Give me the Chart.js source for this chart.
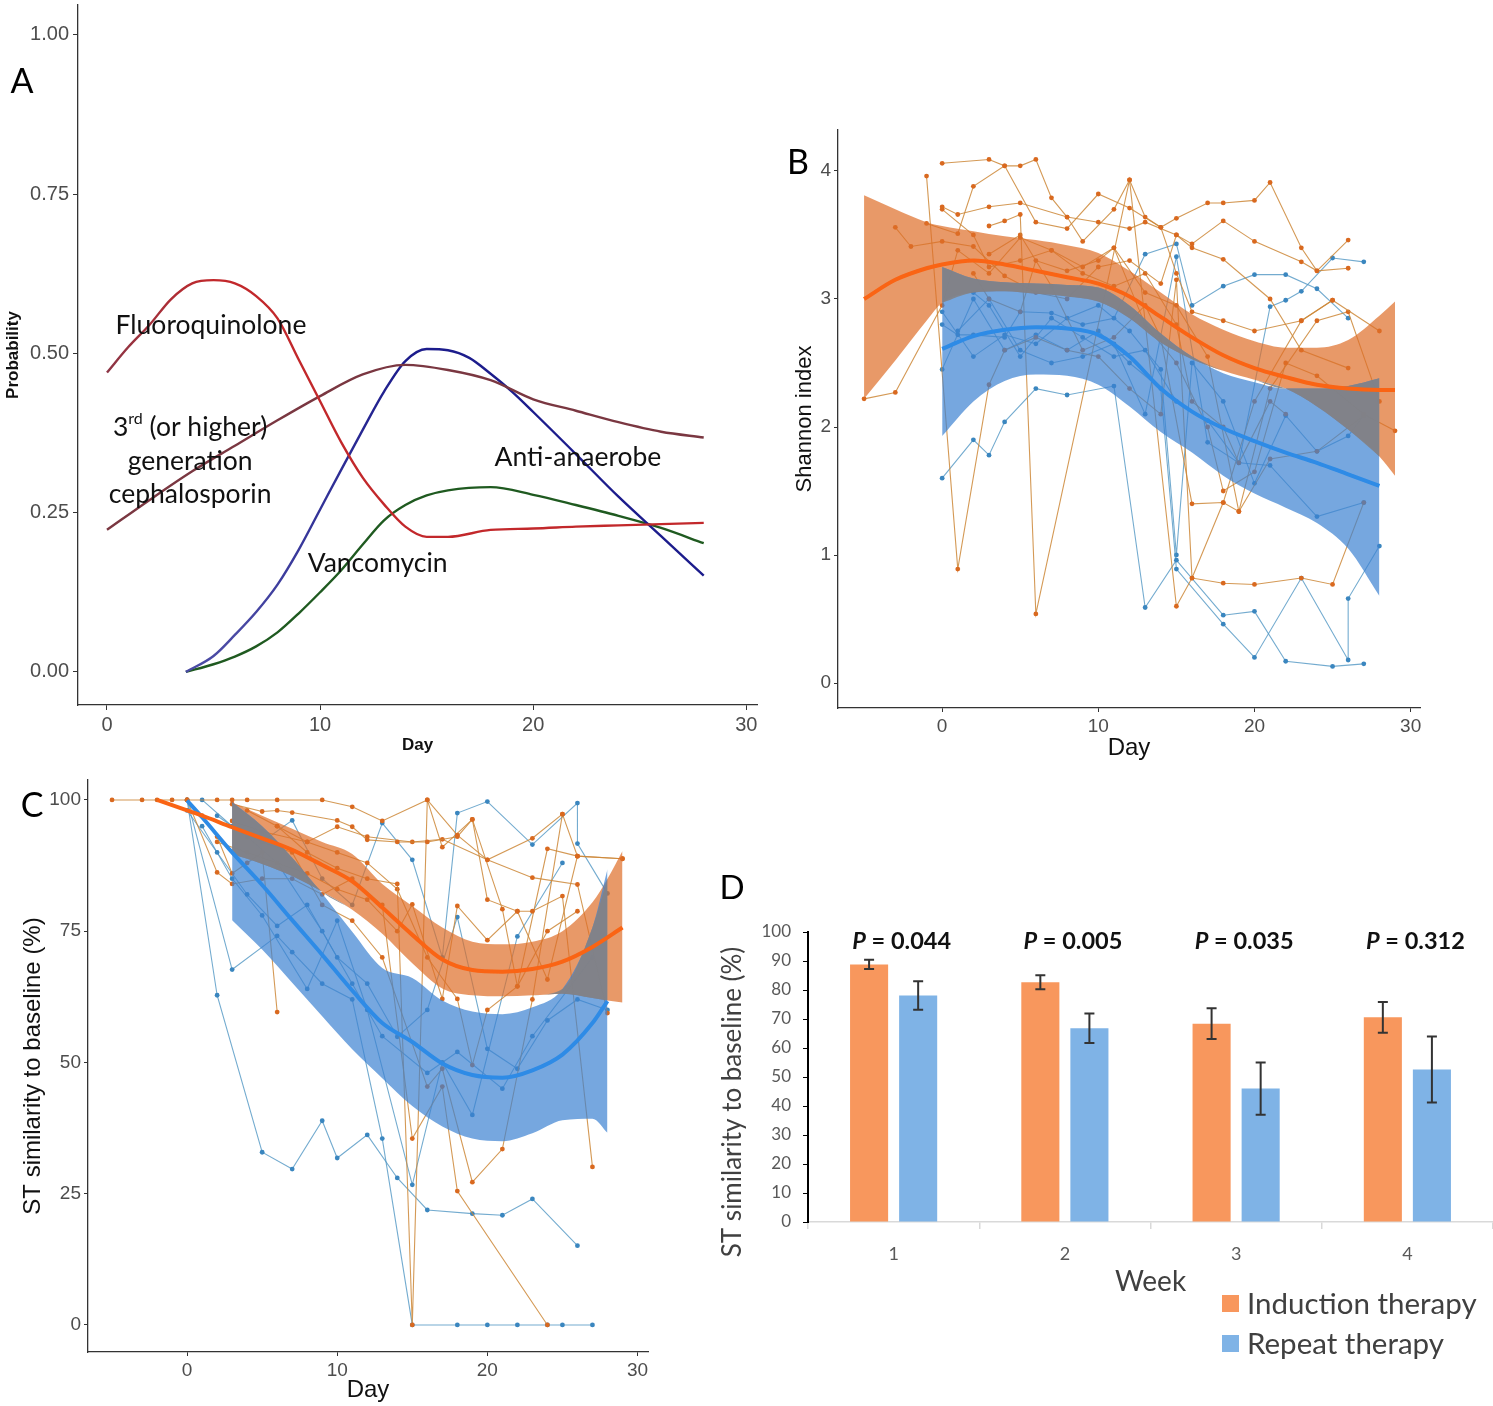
<!DOCTYPE html>
<html>
<head>
<meta charset="utf-8">
<title>Antibiotic exposure and microbiota</title>
<script src="https://cdn.jsdelivr.net/npm/chart.js@4.4.1/dist/chart.umd.min.js"></script>
<style>
  html, body { margin: 0; padding: 0; background: #fff; }
  body { width: 1493px; height: 1406px; position: relative; overflow: hidden; }
  .panel { position: absolute; }
</style>
</head>
<body>
<div class="panel" style="left:0;top:0;width:770px;height:760px"><canvas id="chartA"></canvas></div>
<div class="panel" style="left:780px;top:120px;width:650px;height:650px"><canvas id="chartB"></canvas></div>
<div class="panel" style="left:0;top:770px;width:660px;height:636px"><canvas id="chartC"></canvas></div>
<div class="panel" style="left:700px;top:860px;width:793px;height:546px"><canvas id="chartD"></canvas></div>
<script>
// ===== Panel A: probability of receiving each antibiotic class =====
const fluoroDays = [0,1,2,3,4,5,6,7,8,9,10,11,12,13,14,15,16,18,20,22,24,26,28];
const fluoroProb = [0.47,0.51,0.545,0.585,0.61,0.615,0.61,0.59,0.555,0.49,0.425,0.36,0.305,0.263,0.228,0.212,0.212,0.223,0.225,0.228,0.23,0.232,0.234];
const cephDays = [0,2,4,6,8,10,12,14,16,18,20,22,24,26,28];
const cephProb = [0.223,0.27,0.315,0.355,0.395,0.433,0.467,0.482,0.474,0.458,0.428,0.41,0.392,0.377,0.368];
const anaerobeDays = [3.7,5,6,7,8,9,10,11,12,13,14,15,16,17,18,19,20,22,24,26,28];
const anaerobeProb = [0,0.025,0.058,0.094,0.137,0.192,0.255,0.318,0.38,0.44,0.488,0.507,0.505,0.493,0.468,0.44,0.408,0.342,0.275,0.213,0.151];
const vancoDays = [3.7,5,6,7,8,9,10,11,12,13,14,15,16,18,20,22,24,26,28];
const vancoProb = [0,0.012,0.024,0.04,0.062,0.092,0.125,0.16,0.2,0.238,0.262,0.277,0.285,0.29,0.278,0.262,0.245,0.226,0.202];

// ===== Panel B: Shannon index per patient + loess fits =====
const shannonInduction = [
  [[-5,2.22],[-3,2.27],[0,2.95],[1,3.38],[3,3.2],[5,3.48],[7,3.38],[9,3.25],[11,3.4],[13,3.05],[15,2.95],[17,2.55],[19,1.34],[21,1.75],[24,1.81],[27,2.09]],
  [[-3,3.56],[-2,3.41],[0,3.45],[2,3.41],[4,3.18],[6,3.05],[8,3.0],[10,3.25],[12,3.3],[14,3.12],[15,3.5],[16,3.43],[18,3.61],[20,3.45],[23,3.29],[24,3.22],[26,3.24]],
  [[-1,3.96],[1,0.89],[3,2.33],[4,2.6],[6,2.7],[8,2.6],[10,2.55],[12,2.3],[14,2.1],[15,3.15],[16,0.82],[18,1.41],[20,2.2],[23,2.83],[25,2.99]],
  [[0,4.06],[3,4.09],[4,4.04],[5,4.04],[6,4.09],[7,3.79],[8,3.64],[9,3.45],[11,3.7],[12,3.93],[13,3.64],[14,3.56],[15,3.63],[17,3.75],[18,3.75],[20,3.77],[21,3.91],[23,3.4],[24,3.22],[26,3.46]],
  [[-1,3.59],[1,3.51],[2,3.88],[4,4.04],[6,3.6],[8,3.55],[10,3.82],[12,3.71],[14,3.56],[15,3.2],[16,2.9],[18,2.83],[20,2.75],[23,2.83],[25,2.99],[28,2.75]],
  [[0,3.72],[1,3.66],[3,3.72],[5,3.75],[8,3.64],[10,3.6],[12,3.55],[13,3.6],[15,3.5],[16,3.4],[18,3.31],[21,3.0],[23,2.6],[26,2.46]],
  [[3,3.57],[4,3.61],[5,3.66],[6,0.54],[12,3.93],[15,0.6],[16,0.82],[18,0.78],[20,0.77],[23,0.82],[25,0.77],[27,1.41]],
  [[0,3.7],[2,3.5],[3,3.25],[5,3.3],[7,3.38],[9,3.2],[11,3.1],[13,3.2],[15,2.8],[16,2.2],[18,2.0],[19,1.72],[21,2.2],[22,2.1]],
  [[2,3.2],[3,3.0],[5,2.9],[6,3.3],[8,3.22],[10,3.3],[11,3.4],[13,2.8],[15,2.5],[17,2.0],[18,1.5],[20,1.65],[22,2.5],[24,2.4],[27,2.1],[29,1.97]],
  [[3,3.35],[5,3.5],[7,3.1],[9,2.6],[11,2.7],[13,2.95],[14,2.7],[16,1.4],[18,1.41],[19,1.34],[21,2.3],[24,2.83],[26,2.9],[28,2.2]]
];
const shannonRepeat = [
  [[0,1.6],[2,1.9],[3,1.78],[4,2.04],[6,2.3],[8,2.25],[11,2.32],[13,0.59],[15,0.96],[18,0.53],[20,0.56],[22,0.17],[25,0.13],[27,0.15]],
  [[0,2.8],[1,2.72],[2,2.72],[4,2.7],[5,2.9],[7,2.89],[9,2.8],[11,2.85],[13,3.35],[15,3.43],[16,2.95],[18,3.1],[20,3.19],[22,3.19],[24,3.08],[26,2.85]],
  [[0,2.45],[2,3.0],[4,2.6],[6,2.72],[8,2.6],[10,2.75],[12,2.5],[14,2.3],[15,0.89],[18,0.46],[20,0.2],[23,0.82],[26,0.18],[26,0.66],[28,1.07]],
  [[1,2.75],[3,3.0],[5,2.6],[7,2.5],[9,2.55],[11,2.65],[13,2.1],[15,3.33],[17,1.88],[19,1.72],[21,2.94],[22,2.99],[23,3.06],[25,3.32],[27,3.29]],
  [[0,2.9],[2,2.55],[4,2.72],[6,2.65],[8,2.85],[10,2.95],[12,2.75],[14,2.45],[15,1.0],[16,2.5],[18,2.2],[20,1.56],[22,2.09],[24,1.81],[26,1.93],[27,2.09]],
  [[2,3.05],[3,2.95],[5,2.55],[7,2.85],[9,2.7],[11,2.55],[13,2.6],[15,2.2],[17,2.05],[19,1.72],[21,1.7],[24,1.3],[27,1.41]]
];
const shannonIndDays = [-5,-3,-1,0,2,4,6,8,10,12,14,16,18,20,22,24,26,28,29];
const shannonIndFit  = [3.00,3.15,3.24,3.27,3.30,3.27,3.22,3.17,3.12,3.02,2.86,2.70,2.56,2.46,2.39,2.33,2.30,2.29,2.29];
const shannonIndHi   = [3.81,3.70,3.60,3.57,3.53,3.49,3.46,3.42,3.36,3.22,3.05,2.88,2.76,2.67,2.62,2.62,2.68,2.87,2.98];
const shannonIndLo   = [2.22,2.52,2.83,2.97,3.05,3.06,3.04,3.02,2.98,2.85,2.66,2.53,2.44,2.37,2.30,2.16,1.98,1.77,1.62];
const shannonRepDays = [0,2,4,6,8,10,12,14,16,18,20,22,24,26,28];
const shannonRepFit  = [2.61,2.71,2.76,2.78,2.77,2.72,2.55,2.30,2.12,1.99,1.89,1.80,1.72,1.63,1.54];
const shannonRepHi   = [3.25,3.16,3.13,3.12,3.11,3.09,2.95,2.73,2.55,2.42,2.35,2.30,2.30,2.32,2.38];
const shannonRepLo   = [1.93,2.20,2.36,2.41,2.40,2.33,2.16,1.96,1.80,1.62,1.48,1.37,1.25,1.05,0.68];

// ===== Panel C: ST similarity to baseline per patient + loess fits =====
const simInduction = [
  [[-5,100],[-3,100],[-2,100],[-1,100],[0,100],[2,100],[3,100],[4,100],[6,100],[9,100],[11,98.7],[13,96],[16,100],[18,93.3],[20,88.6],[23,92.7],[25,97.3],[26,89.3],[29,88.8]],
  [[0,100],[1,97],[2,93],[3,86],[4,88],[5,90],[6,59.6]],
  [[0,100],[2,86.2],[3,84],[5,85],[7,85],[9,82],[11,85],[13,80],[15,35.5],[17,45.4],[18,25.5],[24,0]],
  [[3,99.2],[5,97.8],[6,98],[7,97.6],[10,96.1],[11,94.9],[12,92.4],[14,92],[16,92],[18,93],[19,96.3],[20,81],[22,78.8],[23,78.8],[25,81.7],[27,30.1]],
  [[3,96],[5,94],[8,92],[10,94.9],[12,93],[15,92],[17,92.5],[20,88.6],[23,85.2],[26,83.9],[28,59.4]],
  [[4,98],[6,95],[8,90],[10,87],[12,85],[14,84],[15,0],[16,100],[17,91],[19,96.3],[21,79.2],[22,64.5],[24,75],[26,78.8]],
  [[2,92],[4,90],[6,88],[8,86],[10,83],[12,81],[14,75],[15,80.1],[17,62.1],[18,79.8],[20,73.3],[22,78.8],[24,65.8],[26,89.3],[29,88.8]],
  [[5,92],[7,90],[9,80],[11,77],[13,70],[16,45.4],[17,48.8],[19,27.2],[21,33.5],[23,62],[25,97.3]],
  [[6,95],[8,92],[10,90],[12,88],[14,83],[16,70],[18,62.1],[19,49.5],[20,60],[22,64.5],[24,90.7],[26,89.3]]
];
const simRepeat = [
  [[0,100],[2,62.8],[5,32.9],[7,29.7],[9,38.9],[10,31.8],[12,36.2],[14,28],[16,21.9],[19,21.2],[21,20.9],[23,24],[26,15.1]],
  [[0,100],[3,67.7],[6,74.1],[7,71],[9,65],[11,62],[13,35.5],[15,0],[18,0],[20,0],[22,0],[24,0],[25,0],[27,0]],
  [[1,100],[3,95],[5,92],[7,96.1],[9,85],[11,80],[13,95.6],[15,88.6],[17,70],[18,97.5],[20,99.7],[23,91.5],[26,99.4],[26,91.7],[28,82.2]],
  [[0,98],[2,90],[4,82],[6,76],[8,80],[10,70],[12,65],[14,54.9],[16,60],[18,77.7],[20,52.6],[22,48.8],[24,58],[26,62],[28,60]],
  [[1,95],[3,85],[5,78],[8,64],[10,77],[12,60],[15,26.7],[17,50],[19,40],[22,74],[25,88]],
  [[2,97],[4,93],[6,88],[9,75],[11,65],[13,55],[16,48],[18,52],[21,45],[23,55],[27,70]]
];
const simIndFitDays = [-2,0,1,3,5,7,9,11,13,15,17,19,21,23,25,27,29];
const simIndFit     = [100,98,97,94.8,92.7,90.5,87.6,84.5,79.5,74.3,69.6,67.6,67.3,67.8,69.2,72,75.7];
const simRepFitDays = [0,1,3,5,7,9,11,13,15,17,19,21,23,25,27,28];
const simRepFit     = [99.9,96.7,90,83.8,77.1,70.5,63.7,57.5,53.9,49.8,47.6,47.1,48.5,51.5,57.5,61.7];
const simIndBandDays = [3,5,7,9,11,13,15,17,19,21,23,25,27,28,29];
const simIndHi = [99.5,97,94.5,92,89.7,84,79.8,75.7,73,72.5,73,75,80.5,85,90.3];
const simIndLo = [89.7,87.8,85.5,82.5,79.1,74.5,68.9,64.1,62.8,62.6,62.8,63.1,62.3,61.8,61.4];
const simRepBandDays = [3,5,7,9,11,13,15,17,19,21,23,25,27,28];
const simRepHi = [99.6,95,89,82.2,74.9,68,66.1,61.8,59.7,59.2,60.5,64,75.7,86.8];
const simRepLo = [77.1,71.5,65.2,58.8,52.5,47,41.7,37.8,35.5,35,36.5,39,39.3,36.6];

// ===== Panel D: weekly mean similarity (bars) =====
const weeks = ['1', '2', '3', '4'];
const inductionMean = [88.8, 82.7, 68.4, 70.6];
const inductionErr  = [1.6, 2.4, 5.3, 5.3];
const repeatMean    = [78.1, 66.8, 46.0, 52.6];
const repeatErr     = [4.9, 5.1, 9.0, 11.4];
const pValues = ['0.044', '0.005', '0.035', '0.312'];

// colours
const IND_LINE = 'rgba(205,135,55,0.85)';
const IND_POINT = '#d9691f';
const REP_LINE = 'rgba(80,150,195,0.8)';
const REP_POINT = '#3a86bf';
const IND_BAND = 'rgba(222,110,40,0.70)';
const REP_BAND = 'rgba(60,130,210,0.70)';
const BOTH_BAND = 'rgba(132,130,132,0.88)';

Chart.defaults.font.family = "'Liberation Sans', Arial, sans-serif";
Chart.defaults.animation = false;
Chart.defaults.plugins.legend.display = false;
Chart.defaults.plugins.tooltip.enabled = false;

function pts(xs, ys) {
  return xs.map((x, i) => ({ x: x, y: ys[i] }));
}

// fixed axis sizes so the plot areas land where the figure has them
function fixedWidth(w) {
  return function(scale) { scale.width = w; scale.paddingTop = 0; scale.paddingBottom = 0; };
}
function fixedHeight(h) {
  return function(scale) { scale.height = h; scale.paddingLeft = 0; scale.paddingRight = 0; };
}

function patientSets(patients, lineColor, pointColor) {
  return patients.map(p => ({
    data: p.map(([x, y]) => ({ x: x, y: y })),
    borderColor: lineColor,
    borderWidth: 1.1,
    pointRadius: 2.4,
    pointBackgroundColor: pointColor,
    pointBorderWidth: 0,
    tension: 0,
    order: 10
  }));
}

// upper edge fills down to the lower edge (next dataset)
function bandSets(days, lo, hi, color, order) {
  return [
    { data: pts(days, hi), fill: '+1', backgroundColor: color, borderColor: 'rgba(0,0,0,0)',
      borderWidth: 0, pointRadius: 0, cubicInterpolationMode: 'monotone', order: order },
    { data: pts(days, lo), fill: false, borderColor: 'rgba(0,0,0,0)',
      borderWidth: 0, pointRadius: 0, cubicInterpolationMode: 'monotone', order: order }
  ];
}

// part where the two confidence bands cover each other (drawn grey)
function overlapSets(indDays, indLo, indHi, repDays, repLo, repHi) {
  const lo = [], hi = [];
  repDays.forEach((d, i) => {
    const j = indDays.indexOf(d);
    const l = Math.max(indLo[j], repLo[i]);
    const h = Math.min(indHi[j], repHi[i]);
    lo.push(l);
    hi.push(Math.max(h, l));
  });
  return bandSets(repDays, lo, hi, BOTH_BAND, 4);
}

function fitSet(days, vals, color) {
  return { data: pts(days, vals), borderColor: color, borderWidth: 4, pointRadius: 0,
           cubicInterpolationMode: 'monotone', fill: false, order: 1 };
}

function ggAxes(xr, yr, yStep, yWidth, xHeight, xTitle, yTitle, tickSize) {
  return {
    x: {
      type: 'linear', min: xr[0], max: xr[1],
      afterFit: fixedHeight(xHeight),
      border: { display: true, color: '#333', width: 1.3 },
      grid: { drawOnChartArea: false, drawTicks: true, tickLength: 4, color: '#333' },
      ticks: { stepSize: 10, includeBounds: false, color: '#4d4d4d', padding: 3, font: { size: tickSize } },
      title: xTitle
    },
    y: {
      type: 'linear', min: yr[0], max: yr[1],
      afterFit: fixedWidth(yWidth),
      border: { display: true, color: '#333', width: 1.3 },
      grid: { drawOnChartArea: false, drawTicks: true, tickLength: 4, color: '#333' },
      ticks: { stepSize: yStep, includeBounds: false, color: '#4d4d4d', padding: 3, font: { size: tickSize } },
      title: yTitle
    }
  };
}

function panelLetter(letter, x, y) {
  return {
    id: 'letter' + letter,
    afterDraw(chart) {
      const ctx = chart.ctx;
      ctx.save();
      ctx.fillStyle = '#000';
      ctx.font = '34px Lato';
      ctx.textAlign = 'center';
      ctx.textBaseline = 'middle';
      ctx.fillText(letter, x, y);
      ctx.restore();
    }
  };
}

// ---------- Panel A ----------
const LABEL_FONT = '26.5px Lato';
const curveLabels = {
  id: 'curveLabels',
  afterDraw(chart) {
    const ctx = chart.ctx;
    const xs = chart.scales.x, ys = chart.scales.y;
    const at = (d, p) => [xs.getPixelForValue(d), ys.getPixelForValue(p)];
    ctx.save();
    ctx.fillStyle = '#111';
    ctx.textBaseline = 'middle';
    ctx.textAlign = 'center';
    ctx.font = LABEL_FONT;
    let [x, y] = at(4.88, 0.544);
    ctx.fillText('Fluoroquinolone', x, y);
    [x, y] = at(3.9, 0.330);
    ctx.fillText('generation', x, y);
    [x, y] = at(3.9, 0.278);
    ctx.fillText('cephalosporin', x, y);
    [x, y] = at(22.1, 0.336);
    ctx.fillText('Anti-anaerobe', x, y);
    [x, y] = at(12.7, 0.170);
    ctx.fillText('Vancomycin', x, y);
    // "3rd (or higher)" with superscript
    [x, y] = at(3.9, 0.384);
    ctx.textAlign = 'left';
    const w3 = ctx.measureText('3').width;
    const wRest = ctx.measureText(' (or higher)').width;
    ctx.font = '16px Lato';
    const wSup = ctx.measureText('rd').width;
    const x0 = x - (w3 + wSup + wRest) / 2;
    ctx.font = LABEL_FONT;
    ctx.fillText('3', x0, y);
    ctx.font = '16px Lato';
    ctx.fillText('rd', x0 + w3, y - 8);
    ctx.font = LABEL_FONT;
    ctx.fillText(' (or higher)', x0 + w3 + wSup, y);
    ctx.restore();
  }
};

// colour that shifts along the day axis (the figure's curves do this)
function dayGradient(fromDay, toDay, c0, c1) {
  return function(context) {
    const chart = context.chart;
    if (!chart.chartArea) return c1;
    const xs = chart.scales.x;
    const g = chart.ctx.createLinearGradient(xs.getPixelForValue(fromDay), 0, xs.getPixelForValue(toDay), 0);
    g.addColorStop(0, c0);
    g.addColorStop(1, c1);
    return g;
  };
}

function curveSet(days, probs, color) {
  return { data: pts(days, probs), borderColor: color, borderWidth: 2.4, pointRadius: 0,
           cubicInterpolationMode: 'monotone', fill: false };
}

new Chart(document.getElementById('chartA'), {
  type: 'line',
  data: {
    datasets: [
      curveSet(fluoroDays, fluoroProb, dayGradient(0, 5, '#8c3545', '#c2282b')),
      curveSet(cephDays, cephProb, '#7a3741'),
      curveSet(anaerobeDays, anaerobeProb, dayGradient(6, 14, '#4a4aa4', '#1c1c8c')),
      curveSet(vancoDays, vancoProb, '#1f5a20')
    ]
  },
  options: {
    responsive: true,
    maintainAspectRatio: false,
    layout: { padding: { top: 5, right: 13, left: 0, bottom: 0 } },
    scales: {
      x: {
        type: 'linear', min: -1.36, max: 30.5,
        afterFit: fixedHeight(55),
        border: { display: true, color: '#333', width: 1.3 },
        grid: { drawOnChartArea: false, tickLength: 5, color: '#333' },
        ticks: { stepSize: 10, includeBounds: false, color: '#4d4d4d', padding: 3, font: { size: 20 } },
        title: { display: true, text: 'Day', color: '#111', font: { size: 17, weight: 'bold' }, padding: { top: 0, bottom: 4.8 } }
      },
      y: {
        type: 'linear', min: -0.052, max: 1.047,
        afterFit: fixedWidth(78),
        border: { display: true, color: '#333', width: 1.3 },
        grid: { drawOnChartArea: false, tickLength: 5, color: '#333' },
        ticks: { stepSize: 0.25, includeBounds: false, color: '#4d4d4d', padding: 4, font: { size: 20 },
                 callback: v => v.toFixed(2) },
        title: { display: true, text: 'Probability', color: '#111', font: { size: 17, weight: 'bold' }, padding: { top: 2.8, bottom: 0 } }
      }
    }
  },
  plugins: [curveLabels, panelLetter('A', 22, 82)]
});

// ---------- Panel B ----------
new Chart(document.getElementById('chartB'), {
  type: 'line',
  data: {
    datasets: [
      ...patientSets(shannonInduction, IND_LINE, IND_POINT),
      ...patientSets(shannonRepeat, REP_LINE, REP_POINT),
      ...bandSets(shannonIndDays, shannonIndLo, shannonIndHi, IND_BAND, 6),
      ...bandSets(shannonRepDays, shannonRepLo, shannonRepHi, REP_BAND, 5),
      ...overlapSets(shannonIndDays, shannonIndLo, shannonIndHi, shannonRepDays, shannonRepLo, shannonRepHi),
      fitSet(shannonIndDays, shannonIndFit, '#fa6414'),
      fitSet(shannonRepDays, shannonRepFit, '#2e8be6')
    ]
  },
  options: {
    responsive: true,
    maintainAspectRatio: false,
    layout: { padding: { top: 10, right: 10, left: 0, bottom: 0 } },
    scales: ggAxes([-6.67, 30.6], [-0.195, 4.32], 1, 58, 62,
      { display: true, text: 'Day', color: '#111', font: { size: 24 }, padding: { top: 0, bottom: 7.6 } },
      { display: true, text: 'Shannon index', color: '#111', font: { size: 22 }, padding: { top: 11.8, bottom: 0 } },
      19)
  },
  plugins: [panelLetter('B', 18, 43)]
});

// ---------- Panel C ----------
new Chart(document.getElementById('chartC'), {
  type: 'line',
  data: {
    datasets: [
      ...patientSets(simInduction, IND_LINE, IND_POINT),
      ...patientSets(simRepeat, REP_LINE, REP_POINT),
      ...bandSets(simIndBandDays, simIndLo, simIndHi, IND_BAND, 6),
      ...bandSets(simRepBandDays, simRepLo, simRepHi, REP_BAND, 5),
      ...overlapSets(simIndBandDays, simIndLo, simIndHi, simRepBandDays, simRepLo, simRepHi),
      fitSet(simIndFitDays, simIndFit, '#fa6414'),
      fitSet(simRepFitDays, simRepFit, '#2e8be6')
    ]
  },
  options: {
    responsive: true,
    maintainAspectRatio: false,
    layout: { padding: { top: 10, right: 12, left: 0, bottom: 0 } },
    scales: ggAxes([-6.6, 30.7], [-5.15, 103.8], 25, 88, 54,
      { display: true, text: 'Day', color: '#111', font: { size: 24 }, padding: { top: 0, bottom: 1.6 } },
      { display: true, text: 'ST similarity to baseline (%)', color: '#111', font: { size: 24 }, padding: { top: 18.6, bottom: 0 } },
      19)
  },
  plugins: [panelLetter('C', 32, 36)]
});

// ---------- Panel D ----------
const errorBars = {
  id: 'errorBars',
  afterDatasetsDraw(chart) {
    const ctx = chart.ctx;
    const ys = chart.scales.y;
    const errs = [inductionErr, repeatErr];
    const means = [inductionMean, repeatMean];
    ctx.save();
    ctx.strokeStyle = '#333';
    ctx.lineWidth = 2;
    chart.data.datasets.forEach((ds, di) => {
      chart.getDatasetMeta(di).data.forEach((bar, i) => {
        const top = ys.getPixelForValue(means[di][i] + errs[di][i]);
        const bot = ys.getPixelForValue(means[di][i] - errs[di][i]);
        ctx.beginPath();
        ctx.moveTo(bar.x, top); ctx.lineTo(bar.x, bot);
        ctx.moveTo(bar.x - 5, top); ctx.lineTo(bar.x + 5, top);
        ctx.moveTo(bar.x - 5, bot); ctx.lineTo(bar.x + 5, bot);
        ctx.stroke();
      });
    });
    ctx.restore();
  }
};

const panelDText = {
  id: 'panelDText',
  afterDraw(chart) {
    const ctx = chart.ctx;
    const xs = chart.scales.x;
    const area = chart.chartArea;
    ctx.save();
    ctx.fillStyle = '#111';
    ctx.textBaseline = 'middle';
    // P values above each week
    pValues.forEach((p, i) => {
      const cx = xs.getPixelForValue(i) + 8;
      ctx.font = 'italic bold 23.5px Lato';
      const wP = ctx.measureText('P').width;
      ctx.font = 'bold 23.5px Lato';
      const rest = ' = ' + p;
      const wR = ctx.measureText(rest).width;
      const x0 = cx - (wP + wR) / 2;
      ctx.textAlign = 'left';
      ctx.font = 'italic bold 23.5px Lato';
      ctx.fillText('P', x0, area.top + 9);
      ctx.font = 'bold 23.5px Lato';
      ctx.fillText(rest, x0 + wP, area.top + 9);
    });
    // y title
    ctx.save();
    ctx.translate(33, 242);
    ctx.rotate(-Math.PI / 2);
    ctx.textAlign = 'center';
    ctx.fillStyle = '#404040';
    ctx.font = '26px Lato';
    ctx.fillText('ST similarity to baseline (%)', 0, 0);
    ctx.restore();
    // legend
    const items = [['Induction therapy', '#f8975d'], ['Repeat therapy', '#7fb3e6']];
    items.forEach(([name, col], i) => {
      const y = 444 + i * 40;
      ctx.fillStyle = col;
      ctx.fillRect(522, y - 9, 17, 17);
      ctx.fillStyle = '#404040';
      ctx.font = '29.5px Lato';
      ctx.textAlign = 'left';
      ctx.fillText(name, 547, y);
    });
    // letter
    ctx.fillStyle = '#000';
    ctx.font = '33px Lato';
    ctx.textAlign = 'center';
    ctx.fillText('D', 32, 28);
    ctx.restore();
  }
};

new Chart(document.getElementById('chartD'), {
  type: 'bar',
  data: {
    labels: weeks,
    datasets: [
      { label: 'Induction therapy', data: inductionMean, backgroundColor: '#f8975d',
        categoryPercentage: 0.573, barPercentage: 0.776 },
      { label: 'Repeat therapy', data: repeatMean, backgroundColor: '#7fb3e6',
        categoryPercentage: 0.573, barPercentage: 0.776 }
    ]
  },
  options: {
    responsive: true,
    maintainAspectRatio: false,
    layout: { padding: { top: 72, right: 0, left: 0, bottom: 0 } },
    scales: {
      x: {
        afterFit: fixedHeight(184),
        border: { display: true, color: '#d9d9d9', width: 1.5 },
        grid: { drawOnChartArea: false, tickLength: 7, color: '#d9d9d9', lineWidth: 1.5 },
        ticks: { color: '#595959', padding: 14, font: { family: 'Lato', size: 18 } },
        title: { display: true, text: 'Week', color: '#404040', font: { family: 'Lato', size: 28 }, padding: { top: 0, bottom: 107 } }
      },
      y: {
        min: 0, max: 100,
        afterFit: fixedWidth(108),
        border: { display: true, color: '#000', width: 2 },
        grid: { drawOnChartArea: false, tickLength: 5, color: '#000' },
        ticks: { stepSize: 10, color: '#595959', padding: 12, font: { family: 'Lato', size: 17 } }
      }
    }
  },
  plugins: [errorBars, panelDText]
});
</script>
</body>
</html>
